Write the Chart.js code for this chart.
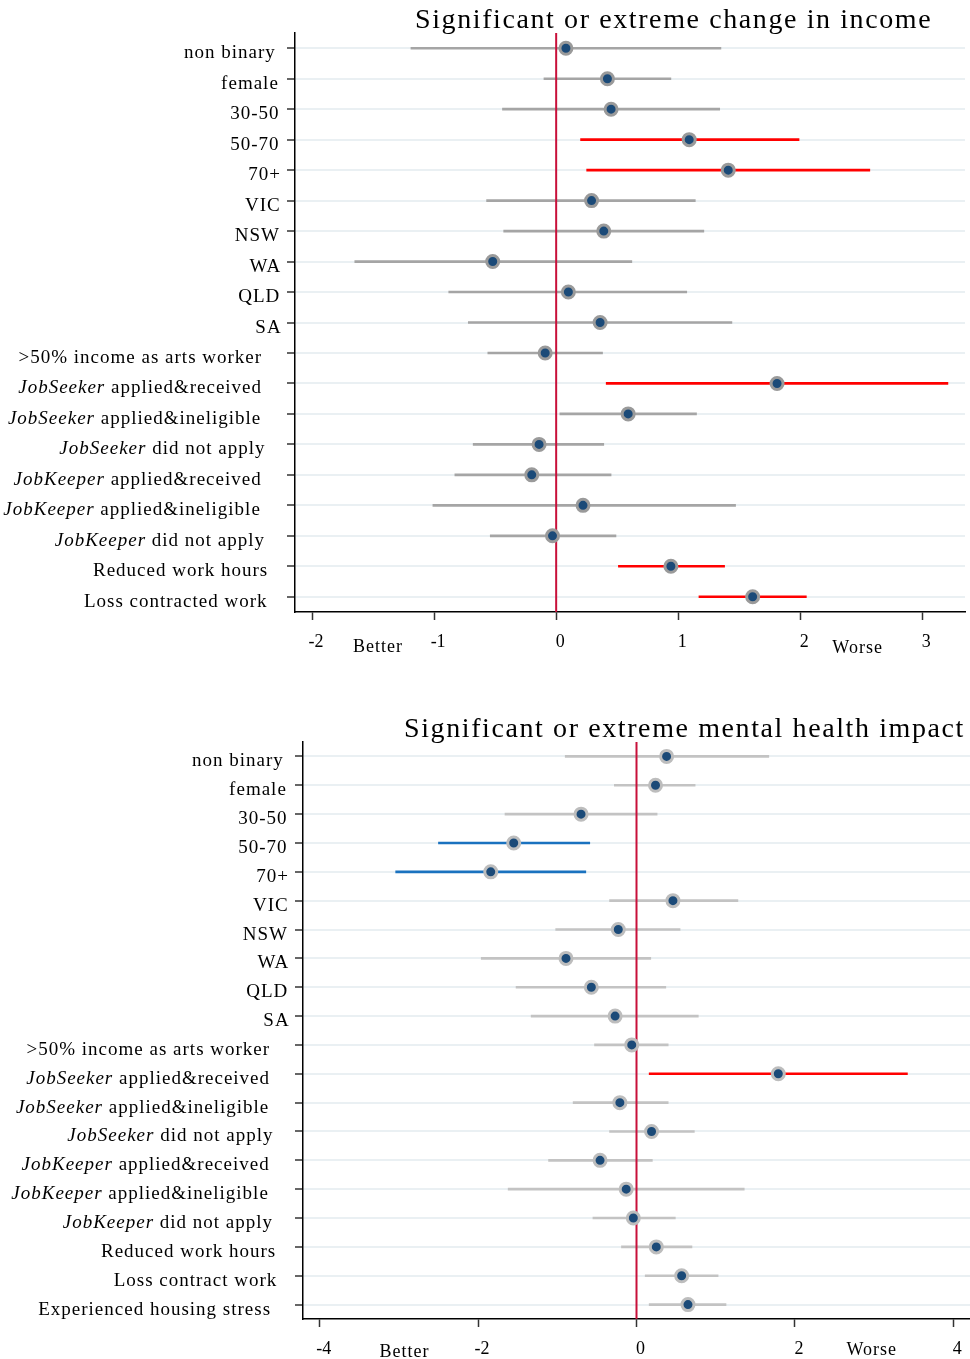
<!DOCTYPE html>
<html><head><meta charset="utf-8">
<script src="https://cdn.jsdelivr.net/npm/chart.js@4.4.1/dist/chart.umd.min.js"></script>
<style>html,body{margin:0;padding:0;background:#fff;}canvas{display:block;}</style>
</head><body>
<canvas id="c1" width="970" height="680"></canvas>
<canvas id="c2" width="970" height="679"></canvas>
<script>
// ---------- DATA ----------
const incomeTitle = "Significant or extreme change in income";
const incomeCategories = ["non binary","female","30-50","50-70","70+","VIC","NSW","WA","QLD","SA",
  ">50% income as arts worker","JobSeeker applied&received","JobSeeker applied&ineligible","JobSeeker did not apply",
  "JobKeeper applied&received","JobKeeper applied&ineligible","JobKeeper did not apply","Reduced work hours","Loss contracted work"];
const incomeEst = [0.08,0.42,0.45,1.09,1.41,0.29,0.39,-0.52,0.10,0.36,-0.09,1.81,0.59,-0.14,-0.20,0.22,-0.03,0.94,1.61];
const incomeLo  = [-1.19,-0.10,-0.44,0.20,0.25,-0.57,-0.43,-1.65,-0.88,-0.72,-0.56,0.41,0.03,-0.68,-0.83,-1.01,-0.54,0.51,1.17];
const incomeHi  = [1.35,0.94,1.34,1.99,2.57,1.14,1.21,0.62,1.07,1.44,0.38,3.21,1.15,0.39,0.45,1.47,0.49,1.38,2.05];
const incomeSig = [0,0,0,1,1,0,0,0,0,0,0,1,0,0,0,0,0,1,1];
const incomeTicks = [-2,-1,0,1,2,3];
const incomeRange = [-2.14, 3.35];

const mentalTitle = "Significant or extreme mental health impact";
const mentalCategories = ["non binary","female","30-50","50-70","70+","VIC","NSW","WA","QLD","SA",
  ">50% income as arts worker","JobSeeker applied&received","JobSeeker applied&ineligible","JobSeeker did not apply",
  "JobKeeper applied&received","JobKeeper applied&ineligible","JobKeeper did not apply","Reduced work hours","Loss contract work","Experienced housing stress"];
const mentalEst = [0.38,0.24,-0.70,-1.55,-1.84,0.46,-0.23,-0.89,-0.57,-0.27,-0.06,1.79,-0.21,0.19,-0.46,-0.13,-0.04,0.25,0.57,0.65];
const mentalLo  = [-0.90,-0.28,-1.66,-2.50,-3.04,-0.34,-1.02,-1.96,-1.52,-1.33,-0.53,0.16,-0.80,-0.34,-1.11,-1.62,-0.55,-0.19,0.11,0.16];
const mentalHi  = [1.67,0.74,0.26,-0.59,-0.64,1.28,0.55,0.18,0.37,0.78,0.40,3.42,0.40,0.73,0.20,1.36,0.49,0.70,1.03,1.13];
const mentalSig = [0,0,0,-1,-1,0,0,0,0,0,0,1,0,0,0,0,0,0,0,0];
const mentalTicks = [-4,-2,0,2,4];
const mentalRange = [-4.21, 4.21];

const axisWords = ["Better","Worse"];
const incomeWordPos = [-1.46, 2.47];
const mentalWordPos = [-2.93, 2.97];

// ---------- DRAWING ----------
const SERIF = '"Liberation Serif", "Times New Roman", serif';

function drawLabel(ctx, text, right, y, size, spacing) {
  const m = text.match(/^(JobSeeker|JobKeeper)(.*)$/);
  const segs = m ? [[m[1],'italic'],[m[2],'normal']] : [[text,'normal']];
  ctx.letterSpacing = spacing + 'px';
  const widths = segs.map(([t,st]) => { ctx.font = st + ' ' + size + 'px ' + SERIF; return ctx.measureText(t).width; });
  const total = widths.reduce((a,b)=>a+b,0);
  let x = right - 0.09 * total - total;
  ctx.textAlign = 'left';
  ctx.textBaseline = 'alphabetic';
  segs.forEach(([t,st],i) => {
    ctx.font = st + ' ' + size + 'px ' + SERIF;
    ctx.fillText(t, x, y);
    x += widths[i];
  });
  ctx.letterSpacing = '0px';
}

const forestPlugin = {
  id: 'forest',
  afterDatasetDraw(chart, args, opts) {
    if (args.index !== 0) return;
    const ctx = chart.ctx, a = chart.chartArea, xs = chart.scales.x;
    const x0 = xs.getPixelForValue(0);
    ctx.save();
    ctx.strokeStyle = '#c8103a';
    ctx.lineWidth = 2;
    ctx.beginPath(); ctx.moveTo(x0, a.top); ctx.lineTo(x0, a.bottom); ctx.stroke();
    ctx.restore();
  },
  afterDraw(chart, args, opts) {
    const ctx = chart.ctx, a = chart.chartArea, ys = chart.scales.y, xs = chart.scales.x;
    ctx.save();
    ctx.fillStyle = '#000';
    const labels = chart.data.labels;
    labels.forEach((lab, i) => {
      const y = ys.getPixelForTick(i);
      drawLabel(ctx, lab, a.left - 11, y + 10, 19, 1);
    });
    // title
    ctx.letterSpacing = '1.6px';
    ctx.font = '28px ' + SERIF;
    ctx.textAlign = 'left'; ctx.textBaseline = 'alphabetic';
    ctx.fillText(opts.title, opts.titleX, opts.titleY);
    // Better / Worse
    ctx.letterSpacing = '1px';
    ctx.font = '18px ' + SERIF;
    ctx.textAlign = 'center';
    axisWords.forEach((w, i) => {
      ctx.fillText(w, xs.getPixelForValue(opts.wordPos[i]), opts.wordY[i]);
    });
    ctx.letterSpacing = '0px';
    ctx.restore();
  }
};

function makeChart(id, cfg) {
  const gray = cfg.gray;
  const colors = cfg.sig.map(s => s > 0 ? '#ff0000' : (s < 0 ? '#1a72bf' : gray));
  return new Chart(document.getElementById(id), {
    type: 'bar',
    data: {
      labels: cfg.categories,
      datasets: [
        {
          type: 'bar', indexAxis: 'y',
          data: cfg.lo.map((l, i) => [l, cfg.hi[i]]),
          backgroundColor: colors, borderWidth: 0, borderSkipped: false,
          barThickness: 2, order: 2
        },
        {
          type: 'line', indexAxis: 'y', showLine: false,
          data: cfg.est,
          pointRadius: 6, pointBorderWidth: 3,
          pointBackgroundColor: '#1b4a78', pointBorderColor: cfg.ptBorder,
          order: 1, clip: false
        }
      ]
    },
    options: {
      indexAxis: 'y',
      responsive: false, animation: false, events: [],
      layout: { autoPadding: false, padding: { top: cfg.padTop, right: cfg.padRight, left: 0, bottom: 0 } },
      plugins: {
        legend: { display: false }, tooltip: { enabled: false }, title: { display: false },
        forest: { title: cfg.title, titleX: cfg.titleX, titleY: cfg.titleY, wordPos: cfg.wordPos, wordY: cfg.wordY }
      },
      scales: {
        y: {
          type: 'category', offset: true,
          grid: { offset: false, color: '#eaf0f3', lineWidth: 2, drawTicks: true, tickLength: 8, tickColor: '#333', tickWidth: 1.5 },
          border: { display: true, color: '#000', width: 1.5 },
          ticks: { display: false },
          afterFit: s => { s.width = cfg.yWidth; }
        },
        x: {
          type: 'linear', min: cfg.range[0], max: cfg.range[1],
          afterBuildTicks: s => { s.ticks = cfg.ticks.map(v => ({ value: v })); },
          grid: { drawOnChartArea: false, drawTicks: true, tickLength: 8, tickColor: '#333', tickWidth: 1.5 },
          border: { display: true, color: '#000', width: 1.5 },
          ticks: { color: '#000', font: { family: SERIF, size: 18 }, padding: 11, labelOffset: 4, maxRotation: 0, autoSkip: false,
                   callback: v => String(v) },
          afterFit: s => { s.height = cfg.xHeight; s.paddingLeft = 0; s.paddingRight = 0; }
        }
      }
    },
    plugins: [forestPlugin]
  });
}

makeChart('c1', {
  categories: incomeCategories, est: incomeEst, lo: incomeLo, hi: incomeHi, sig: incomeSig,
  ticks: incomeTicks, range: incomeRange, gray: '#a5a5a5', ptBorder: '#9a9a9a',
  padTop: 33, padRight: 5, yWidth: 295, xHeight: 68,
  title: incomeTitle, titleX: 415, titleY: 28, wordPos: incomeWordPos, wordY: [652, 653]
});
makeChart('c2', {
  categories: mentalCategories, est: mentalEst, lo: mentalLo, hi: mentalHi, sig: mentalSig,
  ticks: mentalTicks, range: mentalRange, gray: '#c3c3c3', ptBorder: '#bdbdbd',
  padTop: 62, padRight: 0, yWidth: 303, xHeight: 40,
  title: mentalTitle, titleX: 404, titleY: 57, wordPos: mentalWordPos, wordY: [677, 675]
});
</script>
</body></html>
